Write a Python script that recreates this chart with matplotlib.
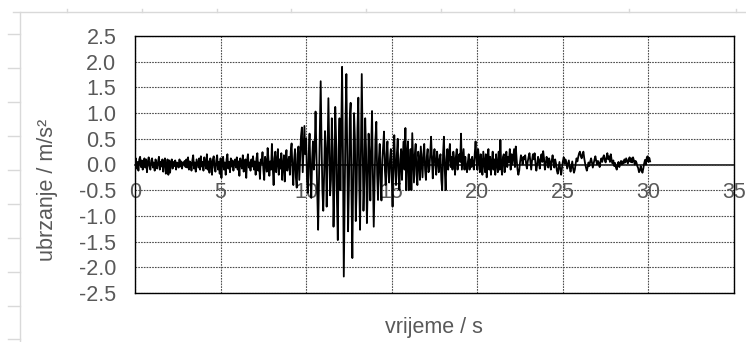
import numpy as np
import matplotlib
matplotlib.use("Agg")
import matplotlib.pyplot as plt
from matplotlib.lines import Line2D

plt.rcParams['font.family'] = ['Liberation Sans', 'DejaVu Sans']

dt = 0.05
acc_quiet = [  # 0 - 9 s
    0.02, 0.12, -0.08, 0.05, -0.12, 0.1, 0.15, -0.05, 0.08, -0.1, 0.03, 0.12, -0.06, 0.1, -0.15, 0.05, 0.14, -0.04, -0.1, 0.08,
    0.12, -0.06, 0.04, -0.12, 0.1, 0.02, -0.08, 0.06, 0.15, -0.1, 0.05, -0.04, 0.1, -0.14, 0.06, 0.12, -0.18, -0.05, 0.1, -0.2,
    0.08, -0.16, 0.04, 0.1, -0.08, 0.05, -0.03, 0.08, -0.1, 0.04, 0.02, -0.06, 0.1, -0.04, 0.06, -0.08, 0.04, 0.0, 0.07, -0.05,
    0.1, -0.06, 0.14, -0.1, 0.06, 0.03, -0.12, 0.08, 0.18, -0.08, 0.04, -0.14, 0.1, 0.02, -0.06, 0.12, -0.1, 0.16, -0.04, 0.05,
    -0.12, 0.14, 0.02, -0.08, 0.2, -0.1, 0.06, -0.16, 0.12, 0.04, -0.2, 0.1, 0.16, -0.06, -0.14, 0.08, 0.18, -0.1, 0.05, -0.18,
    0.12, -0.26, 0.06, 0.15, -0.1, 0.04, -0.2, 0.1, 0.2, -0.08, 0.05, -0.15, 0.12, -0.04, 0.08, -0.12, 0.02, 0.1, -0.06, 0.14,
    -0.1, 0.06, -0.22, 0.12, 0.04, -0.08, 0.18, -0.14, 0.02, 0.1, -0.26, 0.08, 0.2, -0.06, 0.04, -0.12, 0.1, -0.04, 0.16, -0.1,
    0.06, -0.2, 0.12, 0.22, -0.12, 0.04, -0.28, 0.1, 0.02, 0.24, -0.1, -0.3, 0.15, 0.05, -0.14, 0.32, 0.1, -0.22, 0.06, -0.1,
    0.4, -0.05, -0.4, 0.12, 0.25, -0.15, 0.05, 0.3, -0.2, 0.1, -0.08, 0.22, -0.3, 0.0, 0.18, -0.33, 0.1, 0.28, -0.12, 0.05,
]
acc_strong = [  # 9 - 16 s
    0.15, -0.2, 0.25, 0.41, -0.1, -0.4, 0.1, 0.3, -0.25, -0.45, 0.2, 0.35, -0.3, 0.1, 0.55, 0.72, -0.15, 0.3, 0.75, 0.2,
    0.5, -0.3, -0.55, 0.2, 0.6, -0.2, -0.65, 0.1, 0.45, -0.1, 0.3, 1.03, 0.2, -0.55, -1.27, -0.3, 0.6, 1.62, 0.4, -0.5,
    -0.9, -0.2, 0.65, 0.3, -0.82, 0.2, 1.29, 0.4, -0.6, -0.3, 0.9, 0.3, -1.21, -0.4, 1.12, 0.5, -0.7, -1.47, 0.3, 0.9,
    -0.5, 0.6, 1.9, 0.2, -2.18, -0.6, 0.8, 1.76, 0.3, -1.3, -0.4, 0.9, 1.2, -0.6, -1.82, -0.2, 1.0, 0.5, -1.1, -0.5,
    0.7, 1.3, -0.3, -1.27, 0.2, 1.76, 0.4, -0.9, -0.3, 0.9, 0.3, -1.14, -0.4, 0.6, 0.2, -0.7, 0.3, 1.04, -0.2, -1.21,
    -0.3, 0.5, 0.83, -0.2, -0.69, 0.1, 0.4, -0.3, -0.7, 0.1, 0.35, 0.64, -0.1, -0.4, 0.2, 0.45, -0.15, -0.35, 0.1, 0.3,
    -0.2, -0.82, 0.1, 0.57, -0.1, -0.4, 0.2, 0.5, -0.2, -0.5, 0.1, 0.3, -0.3, 0.2, 0.45, -0.1, 0.71, -0.5, 0.2, 0.45,
]
acc_coda = [  # 16 - 22 s
    -0.5, -0.2, 0.3, -0.5, 0.61, 0.1, -0.35, 0.2, 0.4, -0.2, -0.4, 0.25, 0.1, -0.3, 0.35, 0.05, -0.25, 0.2, 0.4, -0.1,
    -0.3, 0.15, 0.3, -0.15, -0.1, 0.2, 0.54, 0.1, -0.27, 0.15, 0.3, 0.0, -0.2, 0.25, 0.1, -0.15, 0.1, 0.2, -0.3, -0.5,
    0.2, 0.54, -0.1, -0.5, 0.1, 0.3, -0.1, 0.2, 0.4, -0.05, 0.15, -0.1, 0.25, 0.1, -0.2, 0.15, 0.3, -0.1, 0.1, 0.2,
    0.05, 0.6, -0.1, 0.1, 0.3, -0.1, 0.15, -0.05, -0.15, 0.05, 0.2, -0.1, 0.1, -0.05, 0.15, 0.0, -0.1, 0.2, 0.45, 0.1,
    -0.1, 0.3, 0.1, -0.15, 0.2, 0.05, -0.2, 0.25, 0.05, -0.15, 0.2, -0.25, 0.1, 0.3, -0.1, 0.15, -0.2, 0.05, 0.25, -0.1,
    0.1, -0.2, 0.2, 0.0, -0.15, 0.25, -0.1, 0.48, -0.05, -0.2, 0.15, 0.2, -0.15, 0.1, 0.25, -0.05, 0.15, 0.05, 0.3, -0.1,
]
acc_tail = [  # 22 - 30.1 s
    0.2, 0.0, 0.15, 0.3, -0.05, 0.35, 0.1, -0.1, -0.2, -0.12, 0.05, 0.18, 0.12, 0.0, 0.15, 0.1, 0.18, 0.02, -0.08, 0.06,
    0.15, 0.22, 0.05, -0.1, 0.08, 0.2, 0.1, 0.22, 0.02, -0.12, 0.0, 0.15, 0.08, -0.08, 0.1, 0.2, 0.05, 0.26, 0.12, -0.1,
    0.0, 0.15, 0.08, -0.06, 0.12, 0.04, -0.1, 0.08, 0.18, 0.05, -0.06, 0.1, 0.02, -0.12, -0.18, -0.06, 0.05, -0.1, -0.2, -0.06,
    0.06, 0.14, 0.02, 0.1, 0.05, -0.08, 0.0, 0.08, -0.06, -0.14, -0.04, 0.06, -0.08, -0.16, -0.1, 0.02, 0.12, 0.06, 0.15, 0.22,
    0.25, 0.16, 0.12, 0.2, 0.25, 0.12, 0.02, -0.06, -0.12, -0.05, 0.04, -0.03, 0.06, 0.12, 0.04, -0.06, 0.02, 0.1, 0.16, 0.07,
    0.0, 0.07, 0.02, -0.05, 0.06, 0.12, 0.05, 0.14, 0.18, 0.08, 0.04, 0.14, 0.22, 0.1, 0.16, 0.05, 0.2, 0.09, 0.02, 0.08,
    -0.03, 0.03, -0.06, -0.1, 0.0, 0.05, -0.05, 0.02, 0.07, 0.0, 0.06, 0.02, 0.1, 0.04, 0.12, 0.07, 0.02, 0.1, 0.14, 0.05,
    0.12, 0.04, 0.14, 0.08, 0.0, 0.07, 0.04, -0.03, -0.07, -0.15, -0.12, -0.03, -0.1, -0.16, -0.08, 0.02, 0.09, 0.0, 0.13, 0.16,
    0.05, 0.13, 0.06,
]
acc = np.array(acc_quiet + acc_strong + acc_coda + acc_tail)
t = np.arange(len(acc)) * dt

x_ticks = [0, 5, 10, 15, 20, 25, 30, 35]
y_ticks = [2.5, 2.0, 1.5, 1.0, 0.5, 0.0, -0.5, -1.0, -1.5, -2.0, -2.5]
y_labels = ["2.5", "2.0", "1.5", "1.0", "0.5", "0.0", "-0.5", "-1.0", "-1.5", "-2.0", "-2.5"]

W, H = 746, 342
fig = plt.figure(figsize=(W / 100, H / 100), dpi=100)
ax = fig.add_axes([135 / W, 1 - 293 / H, 599 / W, 257 / H])

txt = '#595959'
ax.plot(t, acc, color='black', lw=1.3, zorder=3)

ax.set_xlim(0, 35)
ax.set_ylim(-2.5, 2.5)
ax.set_xticks(x_ticks)
ax.set_yticks(y_ticks)
ax.set_yticklabels(y_labels)
ax.tick_params(axis='x', length=0, labelbottom=False)
ax.tick_params(axis='y', length=0, pad=13.5, labelsize=15.5, labelcolor=txt)
ax.grid(True, color='#4d4d4d', lw=0.8, ls=(0, (1.5, 1)), zorder=1)
for s in ax.spines.values():
    s.set_color('black')
    s.set_linewidth(1.0)

# horizontal axis crossing at zero, labels below it
sec = ax.secondary_xaxis(0.49999)
sec.set_xticks(x_ticks)
sec.tick_params(length=0, pad=12.5, labelsize=15.5, labelcolor=txt)
for s in sec.spines.values():
    s.set_color('black')
    s.set_linewidth(1.1)

fig.text(47 / W, 1 - 190 / H, 'ubrzanje / m/s²', rotation=90, ha='center', va='center',
         fontsize=15.5, color=txt)
fig.text(434 / W, 1 - 328 / H, 'vrijeme / s', ha='center', va='center',
         fontsize=15.5, color=txt)

# faint sheet border behind the chart
grey = '#d9d9d9'
def px_line(x0, y0, x1, y1):
    fig.add_artist(Line2D([x0 / W, x1 / W], [1 - y0 / H, 1 - y1 / H], color=grey, lw=1.0,
                          transform=fig.transFigure))
px_line(20, 12, 20, H)
px_line(13, 12, W, 12)
for yy in [34, 68, 102, 136, 170, 204, 238, 272, 306, 339]:
    px_line(8, yy, 20, yy)
for xx in [67, 142, 217, 291, 366, 441, 514, 629, 736]:
    px_line(xx, 9, xx, 12)

fig.savefig('out.png', dpi=100)
